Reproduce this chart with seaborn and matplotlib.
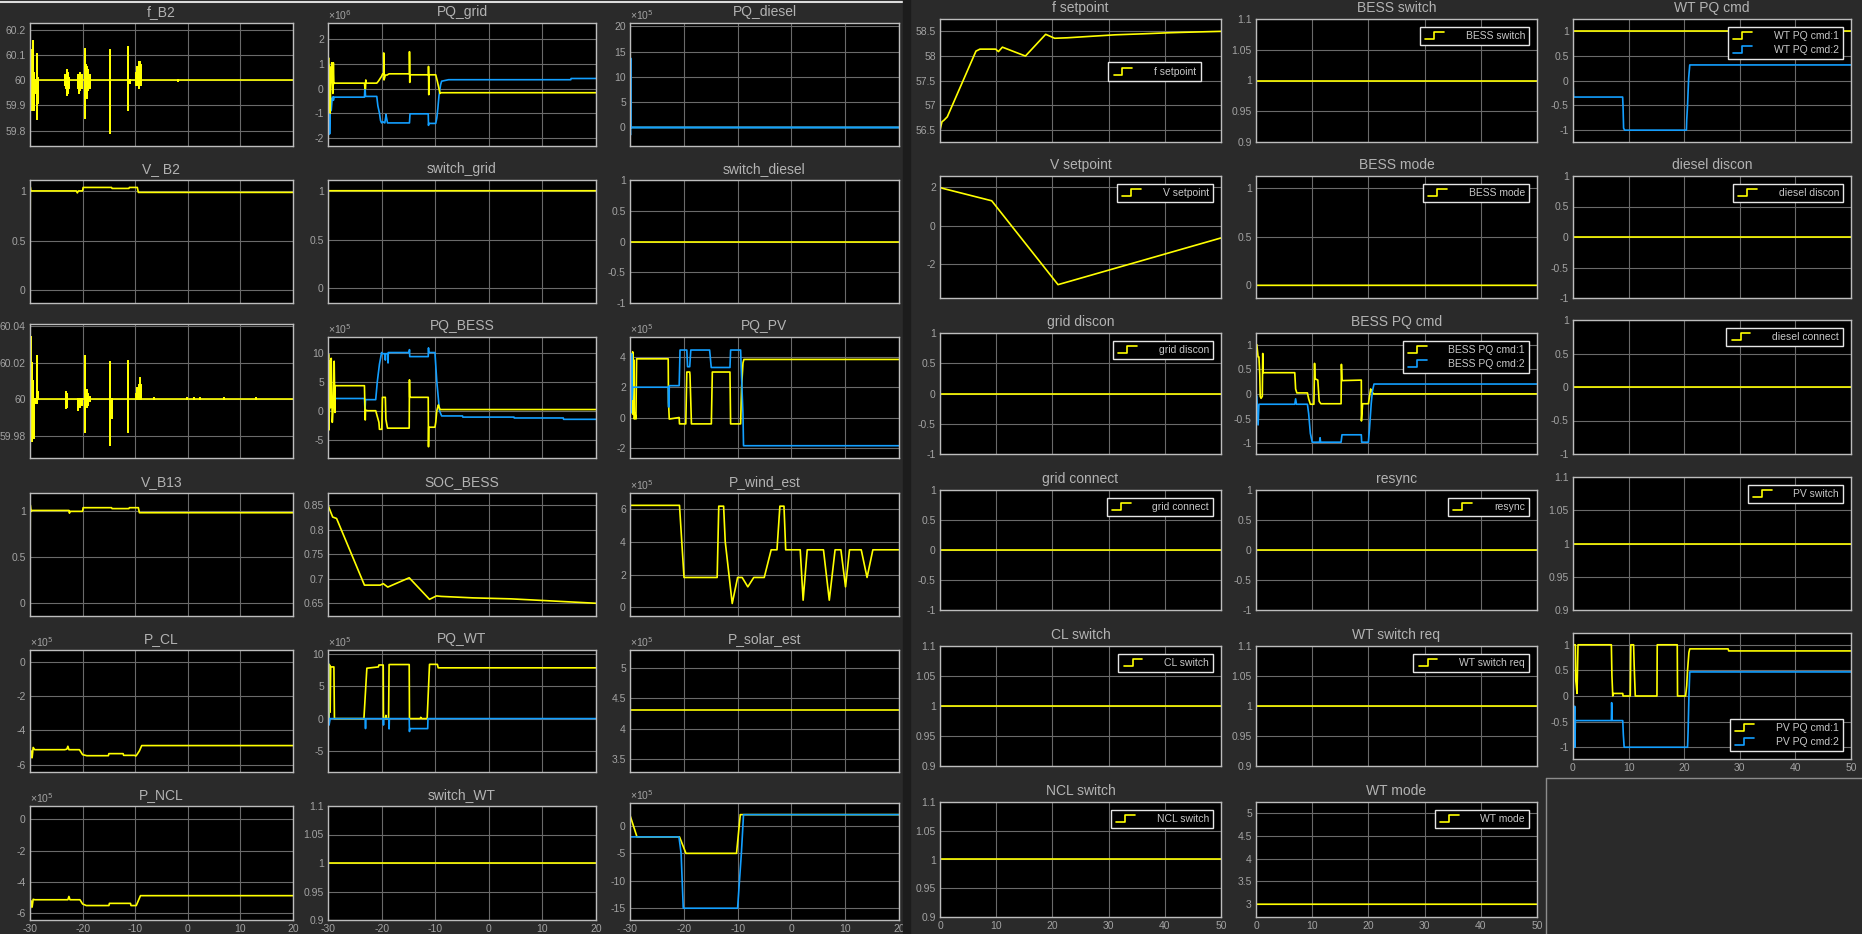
import numpy as np
import pandas as pd
import seaborn as sns
import matplotlib.pyplot as plt
from matplotlib.lines import Line2D
from matplotlib.legend_handler import HandlerBase

# ---------------- data (values read off the scopes) ----------------
# left scope: time -30..20, values of x10^5 / x10^6 signals stored in scaled units

# f_B2 : 60 Hz with spikes (time, spike top, spike bottom)
fb2_spk_t = [-29.95, -29.85, -29.75, -29.65, -29.5, -29.4, -29.3, -29.1, -28.9, -28.7, -28.5,
             -23.3, -23.1, -22.9, -22.7, -22.5, -20.8, -20.6, -20.4, -20.1, -19.6, -19.3,
             -19.1, -18.9, -18.5, -14.75, -11.45, -11.05, -9.85, -9.6, -9.35, -9.1, -8.9, -1.8]
fb2_spk_hi = [60.18, 60.10, 60.12, 60.06, 60.155, 60.05, 60.03, 60.0, 60.0, 60.105, 60.01,
              60.02, 60.01, 60.04, 60.03, 60.01, 60.02, 60.02, 60.03, 60.02, 60.125, 60.06,
              60.05, 60.04, 60.02, 60.12, 60.13, 60.0, 60.03, 60.05, 60.07, 60.07, 60.06, 60.0]
fb2_spk_lo = [59.91, 59.90, 59.93, 59.88, 59.95, 59.92, 59.88, 59.96, 59.95, 59.845, 59.91,
              59.98, 59.97, 59.94, 59.95, 59.97, 59.97, 59.95, 59.96, 59.97, 59.85, 59.97,
              59.93, 59.96, 59.97, 59.79, 59.88, 59.99, 59.98, 59.98, 59.97, 59.98, 59.98, 59.995]

# second frequency trace (untitled)
fb13_spk_t = [-29.9, -29.75, -29.6, -29.45, -29.25, -29.0, -28.7, -28.5, -23.2, -23.0, -20.9,
              -20.5, -20.2, -19.6, -19.25, -18.9, -18.5, -14.75, -14.5, -11.45, -9.85, -9.6,
              -9.35, -9.1, -8.95, -6.5, -0.1, 1.2, 2.3, 6.8, 13.0]
fb13_spk_hi = [60.028, 60.034, 60.02, 60.01, 60.0, 60.0, 60.024, 60.004, 60.004, 60.003, 60.0,
               60.0, 60.0, 60.024, 60.005, 60.003, 60.001, 60.0205, 60.0, 60.021, 60.003, 60.006,
               60.008, 60.0115, 60.008, 60.0006, 60.0006, 60.0006, 60.0006, 60.0006, 60.0006]
fb13_spk_lo = [59.986, 60.0, 59.977, 59.985, 59.979, 59.998, 59.998, 60.0, 59.995, 59.996, 59.994,
               59.996, 59.997, 59.982, 59.996, 59.997, 59.999, 59.975, 59.99, 59.982, 60.0, 60.0,
               60.0, 60.0, 60.0, 60.0, 60.0, 60.0, 60.0, 60.0, 60.0]

# PQ_grid (x10^6)
pqgrid_p_t = [-30, -29.9, -29.8, -29.7, -29.6, -29.5, -29.4, -29.3, -29.1, -29.0, -28.9, -28.8,
              -23.2, -23.1, -23.0, -22.95, -22.9, -20.9, -20.6, -20.3, -20.0, -19.8, -19.6,
              -19.6, -19.55, -19.3, -19.0, -18.6, -14.8, -14.8, -14.75, -14.7, -11.25, -11.25,
              -11.2, -11.15, -9.9, -9.6, -9.3, -9.1, -9.0, 20]
pqgrid_p_v = [-0.48, 1.25, -0.6, 0.9, -1.0, 0.2, 0.3, 1.05, -0.2, 1.05, 0.2, 0.22,
              0.22, 0.0, 0.0, 0.35, 0.22, 0.22, 0.3, 0.4, 0.5, 0.6, 0.6,
              1.45, 0.35, 0.55, 0.55, 0.6, 0.6, 1.5, 0.25, 0.56, 0.56, 0.9,
              -0.25, 0.56, 0.56, 0.3, 0.0, -0.2, -0.17, -0.17]
pqgrid_q_t = [-30, -29.95, -29.85, -29.7, -29.55, -29.4, -29.2, -29.0, -29.0, -28.9, -23.2,
              -23.1, -23.0, -20.9, -20.7, -20.4, -20.2, -20.0, -19.8, -19.4, -19.2, -19.2,
              -18.9, -14.8, -14.7, -11.3, -11.25, -11.2, -9.9, -9.7, -9.5, -9.3, -9.0, -8.8,
              -7.5, 15.3, 15.35, 20]
pqgrid_q_v = [2.2, -1.9, 1.0, -1.85, -0.4, -0.9, -0.35, -0.35, -0.48, -0.35, -0.35,
              0.1, -0.32, -0.32, -0.7, -1.0, -1.3, -1.4, -1.35, -1.4, -1.12, -1.05,
              -1.4, -1.4, -1.03, -1.03, -1.5, -1.42, -1.42, -1.2, -0.8, -0.3, 0.15, 0.3,
              0.36, 0.36, 0.41, 0.41]

# PQ_diesel (x10^5)
pqdiesel_p_t = [-30, -29.95, -29.9, 20]
pqdiesel_p_v = [13.0, 18.2, 0.0, 0.0]
pqdiesel_q_t = [-30, -29.97, -29.93, -29.9, 20]
pqdiesel_q_v = [0.0, -1.5, 13.7, 0.0, 0.0]

# V_B2 / V_B13 (pu)
vb2_t = [-30, -29.95, -29.85, -29.6, -21.2, -21.0, -20.8, -20.0, -19.9, -14.5, -14.4, -11.2,
         -11.1, -9.6, -9.4, 20]
vb2_v = [0, 1.04, 1.0, 1.0, 1.0, 0.98, 1.0, 1.0, 1.035, 1.035, 1.025, 1.025,
         1.035, 1.035, 0.985, 0.985]
vb13_t = [-30, -29.95, -29.8, -29.6, -22.6, -22.5, -22.4, -20.0, -19.9, -14.5, -14.4, -11.2,
          -11.1, -9.4, -9.2, 20]
vb13_v = [0, 1.07, 1.0, 1.01, 1.01, 0.98, 1.0, 1.0, 1.04, 1.04, 1.03, 1.03,
          1.04, 1.04, 0.985, 0.985]

# switches
switch_grid_t = [-30, -29.95, 20]
switch_grid_v = [0, 1, 1]
switch_diesel_t = [-30, 20]
switch_diesel_v = [0, 0]
switch_wt_t = [-30, 20]
switch_wt_v = [1, 1]

# PQ_BESS (x10^5)
pqbess_p_t = [-30, -29.9, -29.8, -29.7, -29.55, -29.4, -29.2, -29.0, -28.85, -28.7, -28.67,
              -23.2, -23.05, -23.0, -22.6, -21.1, -20.8, -20.5, -20.4, -19.95, -19.85, -19.3,
              -19.2, -18.9, -18.55, -14.85, -14.8, -14.75, -11.3, -11.25, -11.2, -10.05, -9.9,
              -9.7, -9.4, -9.3, -9.1, 20]
pqbess_p_v = [2.0, 9.7, -3.3, 8.5, 0.5, 9.0, -2.0, 1.0, 8.5, -0.3, 4.3,
              4.3, -1.6, 0.1, 0.0, 0.0, -1.0, -2.0, -3.2, -3.2, 2.3, 2.3,
              -1.5, -3.0, -3.0, -3.0, 5.3, 2.3, 2.3, -6.2, -2.84, -2.84, -2.0,
              0.0, 1.0, 0.7, 0.2, 0.2]
pqbess_q_t = [-30, -29.9, -29.8, -29.65, -29.5, -29.35, -29.2, -29.0, -23.2, -23.1, -23.0,
              -21.1, -20.8, -20.4, -20.0, -19.9, -19.35, -19.3, -19.25, -18.85, -18.8, -18.75,
              -14.85, -14.8, -14.75, -11.3, -11.25, -11.2, -10.05, -9.7, -9.2, -8.8, -4.9,
              -4.85, 4.7, 4.75, 13.9, 13.95, 20]
pqbess_q_v = [0, 2.9, -1.0, 3.1, 1.0, 2.5, 1.6, 2.1, 2.1, 0.0, 1.9,
              1.9, 5.0, 8.0, 10.0, 9.8, 9.8, 8.7, 9.8, 9.8, 8.2, 10.0,
              10.0, 10.5, 9.3, 9.3, 10.8, 10.0, 10.0, 5.0, 0.0, -0.9, -0.9,
              -1.1, -1.1, -1.25, -1.25, -1.48, -1.48]

# PQ_PV (x10^5)
pqpv_p_t = [-30, -29.9, -29.8, -29.7, -29.6, -29.5, -29.4, -29.3, -29.2, -29.07, -28.9, -28.77,
            -22.9, -22.84, -22.7, -20.86, -20.8, -19.63, -19.44, -18.9, -18.85, -18.58, -14.88,
            -14.7, -11.42, -11.3, -9.44, -9.26, -9.0, -8.83, 20]
pqpv_p_v = [0, 4.0, 1.5, 4.2, 2.0, 4.33, 0.2, 3.8, -0.1, 0.3, -0.1, 3.87,
            3.87, 1.0, -0.1, 0.0, -0.42, -0.42, 3.0, 3.0, 2.8, -0.42, -0.42,
            3.0, 3.0, -0.42, -0.42, 2.0, 3.6, 3.83, 3.83]
pqpv_q_t = [-30, -29.9, -29.8, -29.7, -29.6, -29.5, -22.9, -22.85, -22.75, -22.7, -20.86,
            -20.7, -19.44, -19.3, -18.9, -18.7, -15.2, -14.9, -11.42, -11.3, -9.44, -9.3,
            -9.0, -8.9, 20]
pqpv_q_v = [0, 3.3, 0.3, 4.2, 1.2, 2.0, 2.0, 0.7, 0.7, 2.1, 2.1,
            4.45, 4.45, 3.35, 3.35, 4.45, 4.45, 3.3, 3.3, 4.45, 4.45, 3.0,
            0.2, -1.86, -1.86]

# SOC_BESS
soc_t = [-30, -29.13, -28.4, -23.2, -20.26, -19.7, -18.85, -14.85, -11.06, -9.76, -8.9, -2.94,
         4.1, 9.5, 20]
soc_v = [0.85, 0.826, 0.823, 0.687, 0.687, 0.69, 0.683, 0.702, 0.658, 0.665, 0.664, 0.661,
         0.659, 0.656, 0.65]

# P_wind_est (x10^5)
pwind_t = [-30, -20.8, -19.96, -13.8, -13.5, -12.6, -12.3, -11.0, -10.0, -9.15, -8.1, -7.0,
           -5.05, -3.76, -2.68, -2.14, -1.38, -1.06, 1.64, 2.18, 2.94, 5.96, 7.04, 8.12, 9.2,
           10.06, 10.8, 12.98, 14.06, 15.14, 20]
pwind_v = [6.2, 6.2, 1.82, 1.82, 6.15, 6.15, 4.0, 0.24, 1.82, 1.82, 1.25, 1.82,
           1.82, 3.5, 3.5, 6.15, 6.15, 3.5, 3.5, 0.44, 3.5, 3.5, 0.44, 3.5, 3.5,
           1.25, 3.5, 3.5, 1.82, 3.5, 3.5]

# P_CL / P_NCL (x10^5)
pcl_t = [-30, -29.95, -29.8, -29.6, -29.4, -29.1, -23.4, -23.0, -22.8, -22.6, -20.6, -20.0,
         -19.2, -15.1, -15.0, -12.3, -12.2, -10.1, -9.9, -9.76, -9.2, -8.76, 20]
pcl_v = [0, -5.65, -5.2, -5.6, -5.0, -5.13, -5.13, -5.1, -4.93, -5.13, -5.13, -5.42,
         -5.48, -5.48, -5.36, -5.36, -5.46, -5.46, -5.5, -5.46, -5.2, -4.89, -4.89]
pncl_t = [-30, -29.95, -29.8, -29.6, -29.4, -29.1, -23.0, -22.8, -22.6, -22.4, -20.5, -20.0,
          -19.3, -15.0, -14.9, -10.9, -10.8, -9.8, -9.0, 20]
pncl_v = [0, -5.69, -5.2, -5.6, -5.1, -5.13, -5.13, -5.13, -4.92, -5.13, -5.13, -5.4,
          -5.5, -5.5, -5.36, -5.36, -5.5, -5.5, -4.87, -4.87]

# PQ_WT (x10^5)
pqwt_p_t = [-30, -29.9, -29.8, -29.7, -29.6, -29.5, -29.25, -28.9, -28.8, -23.3, -22.75, -20.6,
            -20.5, -19.7, -19.65, -19.3, -19.2, -19.1, -18.7, -18.6, -14.85, -14.8, -12.8,
            -12.7, -12.5, -11.5, -11.06, -9.6, -9.44, 20]
pqwt_p_v = [0, 8.5, 0, 8.3, 1.0, 8.0, 8.0, 8.0, 0, 0, 7.8, 8.0,
            8.3, 8.3, 0, 0, 0.5, 0, 0, 8.37, 8.37, 0, 0,
            0.2, 0, 0, 8.4, 8.4, 7.86, 7.86]
pqwt_q_t = [-30, -29.95, -29.9, -29.8, -29.6, -23.05, -23.0, -22.95, -19.7, -19.65, -19.6,
            -18.65, -18.6, -18.55, -14.85, -14.8, -14.75, -11.4, -11.35, 20]
pqwt_q_v = [-6.46, 9.0, 0.5, -1.0, 0, 0, -1.55, 0, 0, -1.0, 0,
            0, -1.6, 0, 0, -2.0, -1.55, -1.55, 0, 0]

# P_solar_est (x10^5)
psolar_t = [-30, 20]
psolar_v = [4.3, 4.3]

# untitled bottom-right trace (x10^5)
pq6_p_t = [-30, -28.7, -20.8, -19.6, -10.2, -9.5, 20]
pq6_p_v = [1.94, -2.0, -2.0, -5.0, -5.0, 2.06, 2.06]
pq6_q_t = [-30, -20.9, -20.5, -20.1, -10.0, -9.3, -8.9, 20]
pq6_q_v = [-2.0, -2.0, -5.0, -15.0, -15.0, -5.0, 2.06, 2.06]

# right scope: time 0..50
fsp_t = [0, 0.35, 0.7, 1.3, 6.4, 7.1, 9.9, 10.4, 11.1, 15.2, 18.8, 20.4, 22.7, 26.9, 31.2, 36.1,
         40.4, 43.2, 50]
fsp_v = [56.5, 56.67, 56.7, 56.77, 58.1, 58.14, 58.14, 58.09, 58.18, 58.0, 58.44, 58.36, 58.37,
         58.4, 58.43, 58.45, 58.47, 58.48, 58.5]
vsp_t = [0, 0.5, 9.2, 21.0, 50]
vsp_v = [2.0, 1.95, 1.3, -3.1, -0.65]
wtcmd1_t = [0, 50]
wtcmd1_v = [1, 1]
wtcmd2_t = [0, 0.1, 8.93, 9.0, 9.1, 9.3, 20.4, 20.45, 20.6, 20.8, 21.0, 50]
wtcmd2_v = [0, -0.33, -0.33, -0.52, -0.96, -1.0, -1.0, -0.8, -0.5, 0.05, 0.32, 0.32]
besscmd1_t = [0, 0.15, 0.37, 0.52, 0.67, 0.75, 0.9, 1.12, 1.2, 1.27, 6.9, 7.05, 7.27, 9.15,
              9.37, 9.67, 10.3, 10.42, 10.5, 10.64, 11.0, 11.24, 11.54, 15.14, 15.2, 15.3,
              18.74, 18.76, 18.97, 20.0, 20.4, 20.6, 20.9, 50]
besscmd1_v = [1.0, 1.0, 0.75, 0.75, 0.4, -0.05, -0.09, -0.05, 0.82, 0.43, 0.43, 0.1, 0.02, 0.02,
              -0.1, -0.21, -0.21, 0.62, 0.3, 0.3, 0.28, -0.15, -0.2, -0.2, 0.6, 0.27,
              0.28, -0.55, -0.2, -0.2, 0.1, 0.05, 0.0, 0.0]
besscmd2_t = [0, 0.15, 0.37, 0.52, 6.9, 7.05, 7.2, 9.15, 9.37, 9.67, 10.0, 11.3, 11.4, 11.5,
              15.14, 15.3, 18.74, 18.8, 20.0, 20.2, 20.5, 20.7, 21.0, 50]
besscmd2_v = [0, -0.05, -0.63, -0.21, -0.21, -0.1, -0.21, -0.21, -0.4, -0.8, -0.98, -0.98,
              -0.89, -0.98, -0.98, -0.83, -0.83, -0.98, -0.98, -0.7, -0.2, 0.05, 0.2, 0.2]
pvcmd1_t = [0, 0.42, 0.5, 0.6, 0.72, 0.9, 6.9, 7.0, 7.15, 7.3, 8.95, 9.0, 10.3, 10.4, 10.9,
            11.0, 11.2, 15.1, 15.15, 18.75, 18.8, 20.25, 20.45, 20.6, 20.85, 21.0, 27.9, 28.0, 50]
pvcmd1_v = [1.0, 1.0, 0.3, 0.2, 0.05, 1.0, 1.0, 0.4, 0.0, 0.05, 0.05, 0.0, 0.0, 1.0, 1.0,
            0.6, 0.0, 0.0, 1.0, 1.0, 0.0, 0.0, 0.2, 0.5, 0.85, 0.92, 0.92, 0.88, 0.88]
pvcmd2_t = [0, 0.05, 0.15, 0.2, 0.3, 0.35, 0.42, 6.9, 6.95, 7.05, 7.2, 8.95, 9.05, 9.2, 20.6,
            20.7, 20.85, 21.0, 50]
pvcmd2_v = [0, -1.0, -0.5, -1.0, -0.2, -1.0, -0.48, -0.48, -0.13, -0.48, -0.48, -0.48, -0.75,
            -1.0, -1.0, -0.7, 0.0, 0.47, 0.47]
bessmode_t = [0, 0.02, 50]
bessmode_v = [1, 0, 0]
wtmode_t = [0, 0.02, 50]
wtmode_v = [5, 3, 3]
flag0_t = [0, 50]
flag0_v = [0, 0]
flag1_t = [0, 50]
flag1_v = [1, 1]

# ---------------- style ----------------
BG = '#2a2a2a'
YEL = '#ffff00'
BLU = '#139fff'
TICK = '#a3a3a3'
TITLE = '#b3b3b3'

sns.set_theme(style="dark")
plt.rcParams['font.family'] = ['Liberation Sans', 'DejaVu Sans']
plt.rcParams['axes.unicode_minus'] = False

W, H = 1862, 934
fig = plt.figure(figsize=(W / 100, H / 100), dpi=100, facecolor=BG)


class StepIcon(HandlerBase):
    # legend icon like the Simulink scope (a little step)
    def create_artists(self, legend, orig, xd, yd, w, h, fs, trans):
        x0, y0 = -xd, -yd
        xs = [x0 + 0.05 * w, x0 + 0.5 * w, x0 + 0.5 * w, x0 + 1.0 * w]
        ys = [y0 + 0.0 * h, y0 + 0.0 * h, y0 + 0.95 * h, y0 + 0.95 * h]
        return [Line2D(xs, ys, color=orig.get_color(), lw=1.2, transform=trans)]


def make_ax(x0, x1, y0, y1):
    return fig.add_axes([x0 / W, 1 - y1 / H, (x1 - x0) / W, (y1 - y0) / H])


def trace(ax, t, v, color, lw=1.2):
    sns.lineplot(x=t, y=v, ax=ax, color=color, lw=lw, estimator=None, sort=False, legend=False)


def spiky(base, st, hi, lo, t0, t1):
    t, v = [t0], [base]
    for s, a, b in zip(st, hi, lo):
        t += [s, s, s, s]
        v += [base, a, b, base]
    t.append(t1)
    v.append(base)
    return t, v


def style(ax, title, xlim, ylim, yticks, exp=None, xlab=False, legend=None, loc='upper right',
          bbox=None):
    ax.set_facecolor('black')
    ax.set_xlim(xlim)
    ax.set_ylim(ylim)
    xt = list(range(int(xlim[0]), int(xlim[1]) + 1, 10))
    ax.set_xticks(xt)
    ax.set_xticklabels(['%g' % v for v in xt] if xlab else [])
    ax.set_yticks(yticks)
    ax.set_yticklabels(['%g' % v for v in yticks])
    ax.grid(True, color='#6a6a6a', lw=0.8)
    ax.set_axisbelow(True)
    ax.tick_params(length=0, colors=TICK, labelsize=7.5, pad=3)
    for s in ax.spines.values():
        s.set_visible(True)
        s.set_color('#bdbdbd')
        s.set_linewidth(1.0)
    ax.set_xlabel('')
    ax.set_ylabel('')
    if title:
        ax.set_title(title, color=TITLE, fontsize=10, pad=5)
    if exp:
        ax.text(0.0, 1.012, '×10$^{%d}$' % exp, transform=ax.transAxes, ha='left', va='bottom',
                color=TICK, fontsize=7.5)
    if legend:
        handles = [Line2D([], [], color=c) for c in legend[1]]
        kw = dict(loc=loc)
        if bbox is not None:
            kw['bbox_to_anchor'] = bbox
        lg = ax.legend(handles, legend[0], handler_map={Line2D: StepIcon()}, fontsize=7.5,
                       facecolor='black', edgecolor='#e6e6e6', framealpha=1, fancybox=False,
                       labelcolor='#c8c8c8', handlelength=1.9, handletextpad=2.1,
                       borderpad=0.4, labelspacing=0.35, borderaxespad=0.75, **kw)
        lg.get_frame().set_linewidth(1.0)


# ---------------- left scope ----------------
LC = [(30, 293), (328, 596), (630, 899)]
LT = [23, 180, 337, 493, 650, 806]
LB = [146, 303, 458, 616, 772, 920]
LX = (-30, 20)

ax = make_ax(*LC[0], LT[0], LB[0])
t, v = spiky(60, fb2_spk_t, fb2_spk_hi, fb2_spk_lo, -30, 20)
trace(ax, t, v, YEL)
style(ax, 'f_B2', LX, (59.739, 60.226), [59.8, 59.9, 60, 60.1, 60.2])

ax = make_ax(*LC[1], LT[0], LB[0])
trace(ax, pqgrid_q_t, pqgrid_q_v, BLU)
trace(ax, pqgrid_p_t, pqgrid_p_v, YEL)
style(ax, 'PQ_grid', LX, (-2.34, 2.67), [-2, -1, 0, 1, 2], exp=6)

ax = make_ax(*LC[2], LT[0], LB[0])
trace(ax, pqdiesel_p_t, pqdiesel_p_v, YEL, lw=1.0)
trace(ax, pqdiesel_q_t, pqdiesel_q_v, BLU, lw=1.6)
style(ax, 'PQ_diesel', LX, (-3.67, 20.67), [0, 5, 10, 15, 20], exp=5)

ax = make_ax(*LC[0], LT[1], LB[1])
trace(ax, vb2_t, vb2_v, YEL)
style(ax, 'V_ B2', LX, (-0.13, 1.11), [0, 0.5, 1])

ax = make_ax(*LC[1], LT[1], LB[1])
trace(ax, switch_grid_t, switch_grid_v, YEL)
style(ax, 'switch_grid', LX, (-0.15, 1.11), [0, 0.5, 1])

ax = make_ax(*LC[2], LT[1], LB[1])
trace(ax, switch_diesel_t, switch_diesel_v, YEL)
style(ax, 'switch_diesel', LX, (-1, 1), [-1, -0.5, 0, 0.5, 1])

ax = make_ax(*LC[0], 324, LB[2])
t, v = spiky(60, fb13_spk_t, fb13_spk_hi, fb13_spk_lo, -30, 20)
trace(ax, t, v, YEL)
style(ax, None, LX, (59.9678, 60.0413), [59.98, 60, 60.02, 60.04])

ax = make_ax(*LC[1], LT[2], LB[2])
trace(ax, pqbess_q_t, pqbess_q_v, BLU)
trace(ax, pqbess_p_t, pqbess_p_v, YEL)
style(ax, 'PQ_BESS', LX, (-8.13, 12.67), [-5, 0, 5, 10], exp=5)

ax = make_ax(*LC[2], LT[2], LB[2])
trace(ax, pqpv_p_t, pqpv_p_v, YEL)
trace(ax, pqpv_q_t, pqpv_q_v, BLU)
style(ax, 'PQ_PV', LX, (-2.67, 5.31), [-2, 0, 2, 4], exp=5)

ax = make_ax(*LC[0], LT[3], LB[3])
trace(ax, vb13_t, vb13_v, YEL)
style(ax, 'V_B13', LX, (-0.14, 1.2), [0, 0.5, 1])

ax = make_ax(*LC[1], LT[3], LB[3])
trace(ax, soc_t, soc_v, YEL)
style(ax, 'SOC_BESS', LX, (0.624, 0.875), [0.65, 0.7, 0.75, 0.8, 0.85])

ax = make_ax(*LC[2], LT[3], LB[3])
trace(ax, pwind_t, pwind_v, YEL)
style(ax, 'P_wind_est', LX, (-0.52, 6.95), [0, 2, 4, 6], exp=5)

ax = make_ax(*LC[0], LT[4], LB[4])
trace(ax, pcl_t, pcl_v, YEL)
style(ax, 'P_CL', LX, (-6.43, 0.68), [-6, -4, -2, 0], exp=5)

ax = make_ax(*LC[1], LT[4], LB[4])
trace(ax, pqwt_p_t, pqwt_p_v, YEL)
trace(ax, pqwt_q_t, pqwt_q_v, BLU)
style(ax, 'PQ_WT', LX, (-8.27, 10.62), [-5, 0, 5, 10], exp=5)

ax = make_ax(*LC[2], LT[4], LB[4])
trace(ax, psolar_t, psolar_v, YEL)
style(ax, 'P_solar_est', LX, (3.29, 5.29), [3.5, 4, 4.5, 5], exp=5)

ax = make_ax(*LC[0], LT[5], LB[5])
trace(ax, pncl_t, pncl_v, YEL)
style(ax, 'P_NCL', LX, (-6.42, 0.84), [-6, -4, -2, 0], exp=5, xlab=True)

ax = make_ax(*LC[1], LT[5], LB[5])
trace(ax, switch_wt_t, switch_wt_v, YEL)
style(ax, 'switch_WT', LX, (0.9, 1.1), [0.9, 0.95, 1, 1.05, 1.1], xlab=True)

ax = make_ax(*LC[2], 803, LB[5])
trace(ax, pq6_p_t, pq6_p_v, YEL)
trace(ax, pq6_q_t, pq6_q_v, BLU)
style(ax, None, LX, (-17.15, 4.18), [-15, -10, -5, 0], exp=5, xlab=True)

# ---------------- right scope ----------------
RC = [(940, 1221), (1256, 1537), (1573, 1851)]
RT = [19, 176, 333, 490, 646, 802]
RB = [142, 298, 454, 610, 766, 917]
RX = (0, 50)
SW = [0.9, 0.95, 1, 1.05, 1.1]
PM = [-1, -0.5, 0, 0.5, 1]

ax = make_ax(*RC[0], RT[0], RB[0])
trace(ax, fsp_t, fsp_v, YEL)
style(ax, 'f setpoint', RX, (56.26, 58.75), [56.5, 57, 57.5, 58, 58.5],
      legend=(['f setpoint'], [YEL]), loc='upper right', bbox=(0.955, 0.71))

ax = make_ax(*RC[1], RT[0], RB[0])
trace(ax, flag1_t, flag1_v, YEL)
style(ax, 'BESS switch', RX, (0.9, 1.1), SW, legend=(['BESS switch'], [YEL]))

ax = make_ax(*RC[2], RT[0], RB[0])
trace(ax, wtcmd1_t, wtcmd1_v, YEL)
trace(ax, wtcmd2_t, wtcmd2_v, BLU)
style(ax, 'WT PQ cmd', RX, (-1.24, 1.25), PM,
      legend=(['WT PQ cmd:1', 'WT PQ cmd:2'], [YEL, BLU]))

ax = make_ax(*RC[0], RT[1], RB[1])
trace(ax, vsp_t, vsp_v, YEL)
style(ax, 'V setpoint', RX, (-3.8, 2.6), [-2, 0, 2], legend=(['V setpoint'], [YEL]))

ax = make_ax(*RC[1], RT[1], RB[1])
trace(ax, bessmode_t, bessmode_v, YEL)
style(ax, 'BESS mode', RX, (-0.13, 1.12), [0, 0.5, 1], legend=(['BESS mode'], [YEL]))

ax = make_ax(*RC[2], RT[1], RB[1])
trace(ax, flag0_t, flag0_v, YEL)
style(ax, 'diesel discon', RX, (-1, 1), PM, legend=(['diesel discon'], [YEL]))

ax = make_ax(*RC[0], RT[2], RB[2])
trace(ax, flag0_t, flag0_v, YEL)
style(ax, 'grid discon', RX, (-1, 1), PM, legend=(['grid discon'], [YEL]))

ax = make_ax(*RC[1], RT[2], RB[2])
trace(ax, besscmd1_t, besscmd1_v, YEL)
trace(ax, besscmd2_t, besscmd2_v, BLU)
style(ax, 'BESS PQ cmd', RX, (-1.22, 1.236), PM,
      legend=(['BESS PQ cmd:1', 'BESS PQ cmd:2'], [YEL, BLU]))

ax = make_ax(*RC[2], 320, RB[2])
trace(ax, flag0_t, flag0_v, YEL)
style(ax, None, RX, (-1, 1), PM, legend=(['diesel connect'], [YEL]))

ax = make_ax(*RC[0], RT[3], RB[3])
trace(ax, flag0_t, flag0_v, YEL)
style(ax, 'grid connect', RX, (-1, 1), PM, legend=(['grid connect'], [YEL]))

ax = make_ax(*RC[1], RT[3], RB[3])
trace(ax, flag0_t, flag0_v, YEL)
style(ax, 'resync', RX, (-1, 1), PM, legend=(['resync'], [YEL]))

ax = make_ax(*RC[2], 477, RB[3])
trace(ax, flag1_t, flag1_v, YEL)
style(ax, None, RX, (0.9, 1.1), SW, legend=(['PV switch'], [YEL]))

ax = make_ax(*RC[0], RT[4], RB[4])
trace(ax, flag1_t, flag1_v, YEL)
style(ax, 'CL switch', RX, (0.9, 1.1), SW, legend=(['CL switch'], [YEL]))

ax = make_ax(*RC[1], RT[4], RB[4])
trace(ax, flag1_t, flag1_v, YEL)
style(ax, 'WT switch req', RX, (0.9, 1.1), SW, legend=(['WT switch req'], [YEL]))

ax = make_ax(*RC[2], 633, 759)
trace(ax, pvcmd1_t, pvcmd1_v, YEL)
trace(ax, pvcmd2_t, pvcmd2_v, BLU)
style(ax, None, RX, (-1.23, 1.23), PM, xlab=True, loc='lower right',
      legend=(['PV PQ cmd:1', 'PV PQ cmd:2'], [YEL, BLU]))

ax = make_ax(*RC[0], RT[5], RB[5])
trace(ax, flag1_t, flag1_v, YEL)
style(ax, 'NCL switch', RX, (0.9, 1.1), SW, xlab=True, legend=(['NCL switch'], [YEL]))

ax = make_ax(*RC[1], RT[5], RB[5])
trace(ax, wtmode_t, wtmode_v, YEL)
style(ax, 'WT mode', RX, (2.72, 5.24), [3, 3.5, 4, 4.5, 5], xlab=True,
      legend=(['WT mode'], [YEL]))

# window decorations
fig.add_artist(Line2D([0, 905 / W], [1 - 1.5 / H] * 2, color='#dcdcdc', lw=1.5))
fig.add_artist(Line2D([907 / W] * 2, [0, 1], color='#1c1c1c', lw=6))
fig.add_artist(Line2D([1546 / W, 1], [1 - 778 / H] * 2, color='#8c8c8c', lw=1))
fig.add_artist(Line2D([1546 / W] * 2, [0, 1 - 778 / H], color='#8c8c8c', lw=1))

fig.savefig('out.png', dpi=100, facecolor=BG)
